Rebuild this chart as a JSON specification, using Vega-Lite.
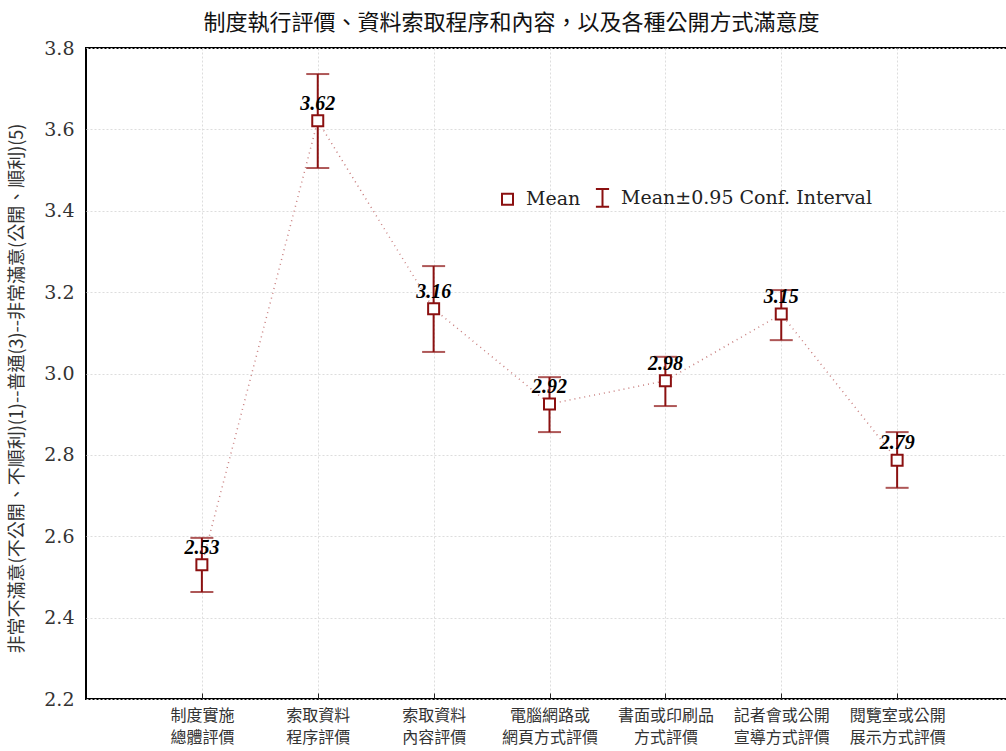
{
  "$schema": "https://vega.github.io/schema/vega-lite/v6.json",
  "autosize": {"type": "none"},
  "padding": {"left": 86, "top": 48, "right": 0, "bottom": 52},
  "width": 927,
  "height": 651,
  "background": "white",
  "title": {
    "text": "制度執行評價、資料索取程序和內容，以及各種公開方式滿意度",
    "font": "Noto Sans CJK TC",
    "fontSize": 22,
    "fontWeight": "normal",
    "color": "#111",
    "anchor": "middle",
    "frame": "group",
    "dx": -38,
    "offset": 4
  },
  "config": {
    "view": {"stroke": "black", "strokeWidth": 2},
    "legend": {
      "orient": "none",
      "legendX": 412,
      "legendY": 140,
      "direction": "horizontal",
      "labelFont": "DejaVu Serif",
      "labelFontSize": 19,
      "labelColor": "#222",
      "labelLimit": 0,
      "symbolSize": 121,
      "symbolStrokeWidth": 2,
      "columnPadding": 10,
      "labelOffset": 9
    }
  },
  "data": {
    "values": [
      {"cat": "制度實施 總體評價", "mean": 2.53, "lo": 2.463, "hi": 2.596},
      {"cat": "索取資料 程序評價", "mean": 3.621, "lo": 3.505, "hi": 3.736},
      {"cat": "索取資料 內容評價", "mean": 3.159, "lo": 3.053, "hi": 3.264},
      {"cat": "電腦網路或 網頁方式評價", "mean": 2.925, "lo": 2.856, "hi": 2.991},
      {"cat": "書面或印刷品 方式評價", "mean": 2.982, "lo": 2.92, "hi": 3.041},
      {"cat": "記者會或公開 宣導方式評價", "mean": 3.146, "lo": 3.082, "hi": 3.205},
      {"cat": "閱覽室或公開 展示方式評價", "mean": 2.787, "lo": 2.719, "hi": 2.856}
    ]
  },
  "encoding": {
    "x": {
      "field": "cat",
      "type": "nominal",
      "sort": null,
      "scale": {"type": "point", "padding": 1},
      "axis": {
        "title": null,
        "labelAngle": 0,
        "labelExpr": "split(datum.label, ' ')",
        "labelFont": "Noto Sans CJK TC",
        "labelFontSize": 16,
        "labelColor": "#333",
        "labelLineHeight": 22,
        "labelPadding": 14,
        "labelBaseline": "top",
        "domain": false,
        "ticks": true,
        "tickSize": -6,
        "tickColor": "#222",
        "grid": true,
        "gridColor": "#dddddd",
        "gridDash": [2, 2]
      }
    }
  },
  "layer": [
    {
      "mark": {"type": "line", "color": "#c98080", "strokeDash": [1, 4], "strokeWidth": 1.5},
      "encoding": {
        "y": {
          "field": "mean",
          "type": "quantitative",
          "scale": {"domain": [2.2, 3.8], "nice": false, "zero": false},
          "axis": {
            "title": "非常不滿意(不公開、不順利)(1)--普通(3)--非常滿意(公開、順利)(5)",
            "titleFont": "Noto Sans CJK TC",
            "titleFontSize": 18,
            "titleFontWeight": "normal",
            "titleColor": "#333",
            "titleX": -60,
            "titleY": 340,
            "values": [2.2, 2.4, 2.6, 2.8, 3.0, 3.2, 3.4, 3.6, 3.8],
            "format": ".1f",
            "labelFont": "DejaVu Serif",
            "labelFontSize": 19,
            "labelColor": "#333",
            "labelPadding": 12,
            "ticks": false,
            "domain": false,
            "grid": true,
            "gridColor": "#dddddd",
            "gridDash": [2, 2]
          }
        }
      }
    },
    {
      "mark": {"type": "rule", "color": "#8b1010", "strokeWidth": 2},
      "encoding": {
        "y": {"field": "lo", "type": "quantitative"},
        "y2": {"field": "hi"}
      }
    },
    {
      "mark": {"type": "tick", "color": "#8b1010", "size": 23, "thickness": 2},
      "encoding": {"y": {"field": "lo", "type": "quantitative"}}
    },
    {
      "mark": {"type": "tick", "color": "#8b1010", "size": 23, "thickness": 2},
      "encoding": {"y": {"field": "hi", "type": "quantitative"}}
    },
    {
      "mark": {"type": "point", "shape": "square", "filled": true, "color": "white", "size": 121, "opacity": 1},
      "encoding": {
        "y": {"field": "mean", "type": "quantitative"}
      }
    },
    {
      "mark": {"type": "point", "filled": false, "color": "#8b1010", "strokeWidth": 2, "size": 121, "opacity": 1},
      "encoding": {
        "y": {"field": "mean", "type": "quantitative"},
        "shape": {
          "datum": "Mean",
          "type": "nominal",
          "scale": {
            "domain": ["Mean", "Mean±0.95 Conf. Interval"],
            "range": ["square", "M-1.2,-1.6H1.2M0,-1.6V1.6M-1.2,1.6H1.2"]
          },
          "legend": {"title": null, "labelLimit": 0}
        }
      }
    },
    {
      "transform": [{"filter": "false"}],
      "mark": {"type": "point", "filled": false, "color": "#8b1010", "strokeWidth": 2, "size": 121},
      "encoding": {
        "y": {"field": "mean", "type": "quantitative"},
        "shape": {"datum": "Mean±0.95 Conf. Interval", "type": "nominal"}
      }
    },
    {
      "mark": {"type": "text", "font": "Liberation Serif", "fontSize": 20, "fontWeight": "bold", "fontStyle": "italic", "color": "black", "dy": -17, "baseline": "middle"},
      "encoding": {
        "y": {"field": "mean", "type": "quantitative"},
        "text": {"field": "mean", "type": "quantitative", "format": ".2f"}
      }
    }
  ]
}
